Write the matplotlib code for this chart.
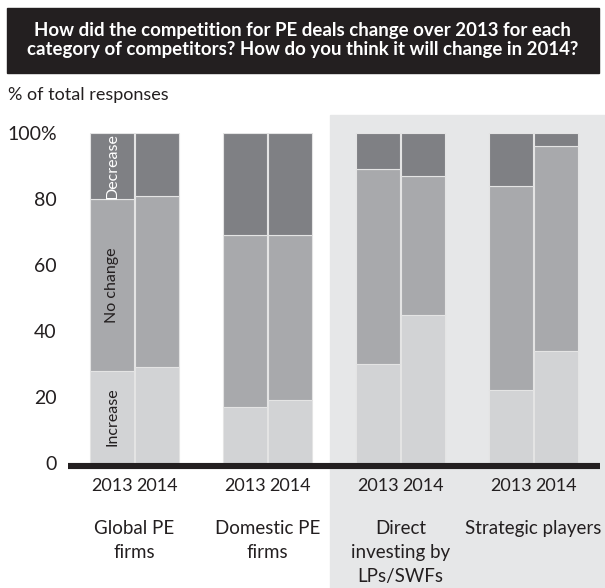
import numpy as np
import matplotlib
matplotlib.use("Agg")
import matplotlib.pyplot as plt
from matplotlib.patches import Rectangle
from matplotlib import transforms

# Survey responses, % of total, per competitor category
categories = ['Global PE\nfirms', 'Domestic PE\nfirms', 'Direct\ninvesting by\nLPs/SWFs', 'Strategic players']
years = ['2013', '2014']
increase_2013 = [28, 17, 30, 22]
nochange_2013 = [52, 52, 59, 62]
decrease_2013 = [20, 31, 11, 16]
increase_2014 = [29, 19, 45, 34]
nochange_2014 = [52, 50, 42, 62]
decrease_2014 = [19, 31, 13, 4]

c_dec = '#7f8084'
c_nc = '#a8a9ac'
c_inc = '#d2d3d5'
c_shade = '#e6e7e8'
c_text = '#231f20'

plt.rcParams['font.family'] = ['Lato', 'DejaVu Sans']

fig = plt.figure(figsize=(6.05, 5.88), dpi=100)

# title box and shaded panel behind the right-hand categories
fig.patches.append(Rectangle((7 / 605, 1 - 73 / 588), 592 / 605, 65 / 588,
                             transform=fig.transFigure, color=c_text, zorder=-2))
fig.patches.append(Rectangle((330 / 605, 0), 1, 1 - 115 / 588,
                             transform=fig.transFigure, color=c_shade, zorder=-2))
fig.text(0.5, 1 - 40 / 588,
         'How did the competition for PE deals change over 2013 for each\n'
         'category of competitors? How do you think it will change in 2014?',
         color='white', fontsize=13.4, fontweight='bold', ha='center', va='center',
         linespacing=1.2)
fig.text(8 / 605, 1 - 95 / 588, '% of total responses', fontsize=13, color=c_text,
         va='center', ha='left')

ax = fig.add_axes([68 / 605, 125 / 588, 532 / 605, 330 / 588])
ax.set_facecolor('none')

x = np.arange(len(categories))
w = 0.335
off = 0.168
edge = dict(edgecolor='#e4e4e4', linewidth=0.8)
for pos, inc, nc, dec in [(x - off, increase_2013, nochange_2013, decrease_2013),
                          (x + off, increase_2014, nochange_2014, decrease_2014)]:
    inc = np.array(inc)
    nc = np.array(nc)
    dec = np.array(dec)
    ax.bar(pos, inc, w, color=c_inc, **edge)
    ax.bar(pos, nc, w, bottom=inc, color=c_nc, **edge)
    ax.bar(pos, dec, w, bottom=inc + nc, color=c_dec, **edge)

# segment names on the first bar
i0, n0, d0 = increase_2013[0], nochange_2013[0], decrease_2013[0]
ax.text(x[0] - off, i0 / 2, 'Increase', rotation=90, ha='center', va='center',
        fontsize=11.5, color=c_text)
ax.text(x[0] - off, i0 + n0 / 2, 'No change', rotation=90, ha='center', va='center',
        fontsize=11.5, color=c_text)
ax.text(x[0] - off, i0 + n0 + d0 / 2, 'Decrease', rotation=90, ha='center', va='center',
        fontsize=11.5, color='white')

# thick baseline just below zero
base_tr = transforms.offset_copy(ax.transData, fig=fig, y=-3, units='dots')
ax.plot([-0.5, 3.5], [0, 0], color=c_text, lw=4.4, transform=base_tr,
        solid_capstyle='butt', clip_on=False, zorder=5)

ax.set_xlim(-0.5, 3.5)
ax.set_ylim(0, 100)
ax.set_yticks([0, 20, 40, 60, 80, 100])
ax.set_yticklabels(['0', '20', '40', '60', '80', '100%'])
ax.set_xticks(np.concatenate([x - off, x + off]))
ax.set_xticklabels(years[:1] * len(x) + years[1:] * len(x))
ax.tick_params(length=0, colors=c_text)
ax.tick_params(axis='y', pad=8, labelsize=14)
ax.tick_params(axis='x', pad=11, labelsize=13)
for s in ax.spines.values():
    s.set_visible(False)

for xi, name in zip(x, categories):
    ax.annotate(name, (xi, 0), xycoords=('data', 'axes fraction'),
                xytext=(0, -41), textcoords='offset points', ha='center', va='top',
                fontsize=13.5, color=c_text, linespacing=1.5)

fig.savefig('out.png', dpi=100)
